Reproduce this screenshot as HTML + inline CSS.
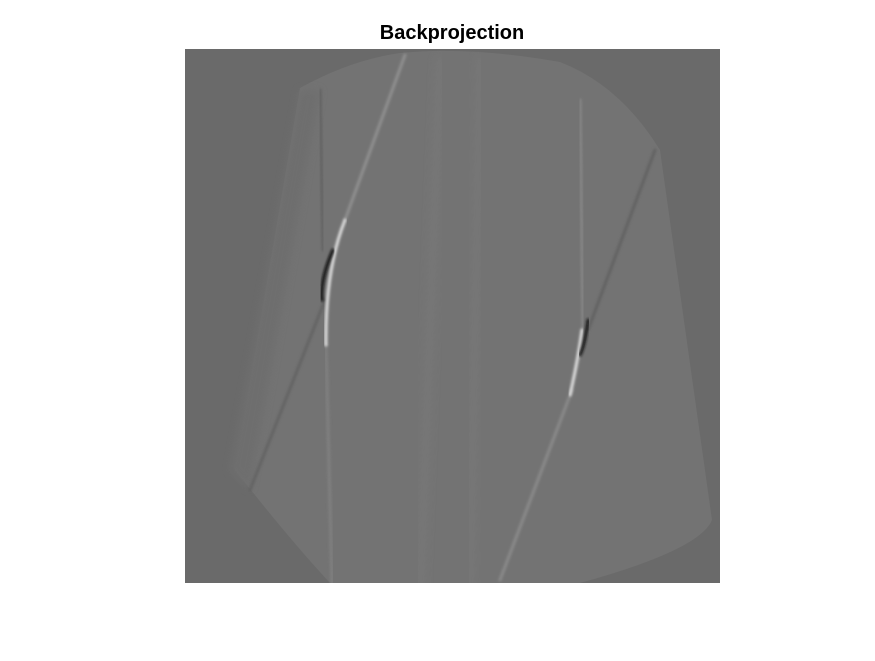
<!DOCTYPE html>
<html><head><meta charset="utf-8"><style>
body{margin:0;background:#fff;width:875px;height:656px;overflow:hidden;font-family:"Liberation Sans",sans-serif}
</style></head><body>
<svg width="875" height="656">
<defs>
<filter id="b1"><feGaussianBlur stdDeviation="1.2"/></filter>
<filter id="b3"><feGaussianBlur stdDeviation="4"/></filter>
<clipPath id="img"><rect x="185" y="49" width="535" height="534"/></clipPath>
</defs>
<text x="452" y="39" text-anchor="middle" font-size="20" font-weight="bold" fill="#000">Backprojection</text>
<rect x="185" y="49" width="535" height="534" fill="#6a6a6a"/>
<g clip-path="url(#img)">
<path d="M300,88 Q350,60 400,53 Q470,46 560,62 Q620,85 660,150 L712,520 Q700,550 580,583 L330,583 Q290,540 235,470 Z" fill="#737373"/>
<path d="M230,470 L300,90 L320,90 L250,490 Z" fill="#6e6e6e" filter="url(#b3)"/>
<g id="streaks" stroke-linecap="round" fill="none">
<path d="M405,55 L345,220" stroke="#909090" stroke-width="3" filter="url(#b1)"/>
<path d="M580,100 L583,330" stroke="#868686" stroke-width="3" filter="url(#b1)"/>
<path d="M655,150 L588,330" stroke="#626262" stroke-width="3" filter="url(#b1)"/>
<path d="M572,390 L500,580" stroke="#8a8a8a" stroke-width="3" filter="url(#b1)"/>
<path d="M320,90 L323,250" stroke="#646464" stroke-width="3" filter="url(#b1)"/>
<path d="M326,345 L332,583" stroke="#808080" stroke-width="3" filter="url(#b1)"/>
<path d="M325,300 L250,490" stroke="#636363" stroke-width="3" filter="url(#b1)"/>
<path d="M440,60 L420,600" stroke="#777" stroke-width="8" filter="url(#b3)"/>
<path d="M480,60 L470,600" stroke="#777" stroke-width="8" filter="url(#b3)"/>
<path d="M345,220 Q325,270 326,345" stroke="#e0e0e0" stroke-width="3" filter="url(#b1)"/>
<path d="M333,250 Q320,280 322,300" stroke="#111" stroke-width="3" filter="url(#b1)"/>
<path d="M582,330 Q578,360 570,395" stroke="#e0e0e0" stroke-width="3" filter="url(#b1)"/>
<path d="M588,320 Q585,345 580,355" stroke="#181818" stroke-width="3" filter="url(#b1)"/>
</g>
</g>
</svg>
</body></html>
